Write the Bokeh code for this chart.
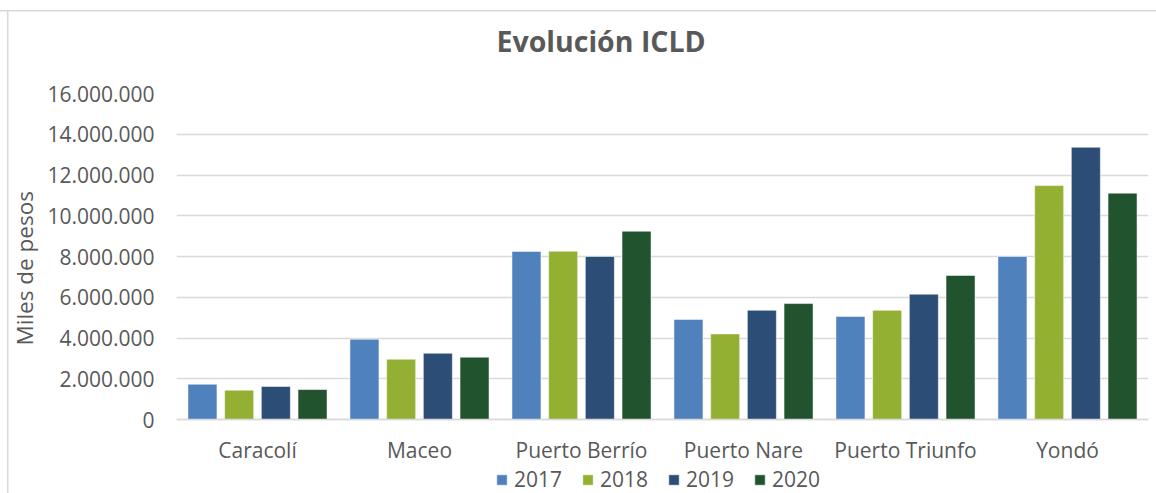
from bokeh.plotting import figure
from bokeh.models import (ColumnDataSource, FactorRange, Range1d, FixedTicker,
                          Legend, LegendItem, Title)
from bokeh.transform import dodge
from bokeh.embed import file_html
from bokeh.resources import INLINE

# ---------------- data ----------------
municipios = ["Caracolí", "Maceo", "Puerto Berrío", "Puerto Nare", "Puerto Triunfo", "Yondó"]
years = ["2017", "2018", "2019", "2020"]
v2017 = [1730000, 3940000, 8250000, 4910000, 5060000, 8000000]
v2018 = [1440000, 2960000, 8260000, 4200000, 5360000, 11480000]
v2019 = [1620000, 3250000, 8000000, 5360000, 6150000, 13360000]
v2020 = [1470000, 3060000, 9240000, 5690000, 7070000, 11110000]
colors = ["#4f81bd", "#93b033", "#2c4d75", "#22532f"]
y_ticks = [0, 2000000, 4000000, 6000000, 8000000, 10000000, 12000000, 14000000, 16000000]
y_tick_labels = ["0", "2.000.000", "4.000.000", "6.000.000", "8.000.000",
                 "10.000.000", "12.000.000", "14.000.000", "16.000.000"]
chart_title = "Evolución ICLD"
y_label = "Miles de pesos"

# ---------------- styling / layout ----------------
FONT = "Open Sans"
GRAY = "#595959"
GRID = "#d9d9d9"
W, H = 1156, 493
FRAME_TOP, ZERO_Y = 93, 419          # pixel rows of the 16M gridline and of 0
Y_MAX = 16000000
# the frame runs to the bottom of the canvas so that the legend can sit inside it
y_start = -Y_MAX * (H - ZERO_Y) / (ZERO_Y - FRAME_TOP)

src = ColumnDataSource(dict(municipio=municipios, y2017=v2017, y2018=v2018,
                            y2019=v2019, y2020=v2020))

p = figure(x_range=FactorRange(*municipios), y_range=Range1d(y_start, Y_MAX),
           width=W, height=H, output_backend="svg", toolbar_location=None,
           min_border_left=176, min_border_right=8, min_border_top=FRAME_TOP,
           min_border_bottom=0)
# light-gray chart border lines (top and left) painted behind a transparent border area
p.styles = {"background": "linear-gradient(#d9d9d9, #d9d9d9) 0px 9.5px / 100% 1.5px no-repeat, "
                          "linear-gradient(#d9d9d9, #d9d9d9) 6.5px 9.5px / 1.5px 100% no-repeat, "
                          "#ffffff"}
p.outline_line_color = None
p.background_fill_color = "white"
p.border_fill_alpha = 0

# chart title (padding below it lifts it away from the plot area)
p.title.text = chart_title
p.title.text_font = FONT
p.title.text_font_style = "bold"
p.title.text_font_size = "28.5px"
p.title.text_color = GRAY
p.title.align = "left"
p.title.offset = 320
p.title.standoff = 0
p.title.vertical_align = "bottom"
p.title.padding = dict(left=0, right=0, top=0, bottom=34)

# y axis label as a left-side title
p.add_layout(Title(text=y_label, text_font=FONT, text_font_style="normal",
                   text_font_size="22.5px", text_color=GRAY, align="left",
                   offset=148, standoff=9, vertical_align="bottom"), "left")

# axes
p.xaxis.fixed_location = 0
p.xaxis.major_tick_line_color = None
p.xaxis.minor_tick_line_color = None
p.xaxis.axis_line_color = GRID
p.xaxis.axis_line_width = 1.5
p.xaxis.major_label_text_font = FONT
p.xaxis.major_label_text_font_size = "21px"
p.xaxis.major_label_text_color = GRAY
p.xaxis.major_label_standoff = 10
p.xgrid.grid_line_color = None

p.yaxis.ticker = FixedTicker(ticks=y_ticks)
p.yaxis.major_label_overrides = dict(zip(y_ticks, y_tick_labels))
p.yaxis.axis_line_color = None
p.yaxis.major_tick_line_color = None
p.yaxis.minor_tick_line_color = None
p.yaxis.major_label_text_font = FONT
p.yaxis.major_label_text_font_size = "21px"
p.yaxis.major_label_text_color = GRAY
p.yaxis.major_label_standoff = 16
p.ygrid.grid_line_color = GRID
p.ygrid.grid_line_width = 1.5

# bars
step = 0.2265
bar_w = 0.179
items = []
for i, (yr, col) in enumerate(zip(years, colors)):
    r = p.vbar(x=dodge("municipio", (i - 1.5) * step, range=p.x_range),
               top="y" + yr, width=bar_w, source=src,
               fill_color=col, line_color="white", line_width=1, line_alpha=0.5)
    items.append(LegendItem(label=yr, renderers=[r]))

legend = Legend(items=items, orientation="horizontal", location=(319, 0),
                padding=0, margin=0, spacing=19, glyph_width=13, glyph_height=13,
                label_standoff=6, label_width=48,
                label_text_font=FONT, label_text_font_size="21px",
                label_text_color=GRAY, border_line_color=None,
                background_fill_alpha=0)
p.add_layout(legend)

open("out.html", "w").write(file_html(p, INLINE))
